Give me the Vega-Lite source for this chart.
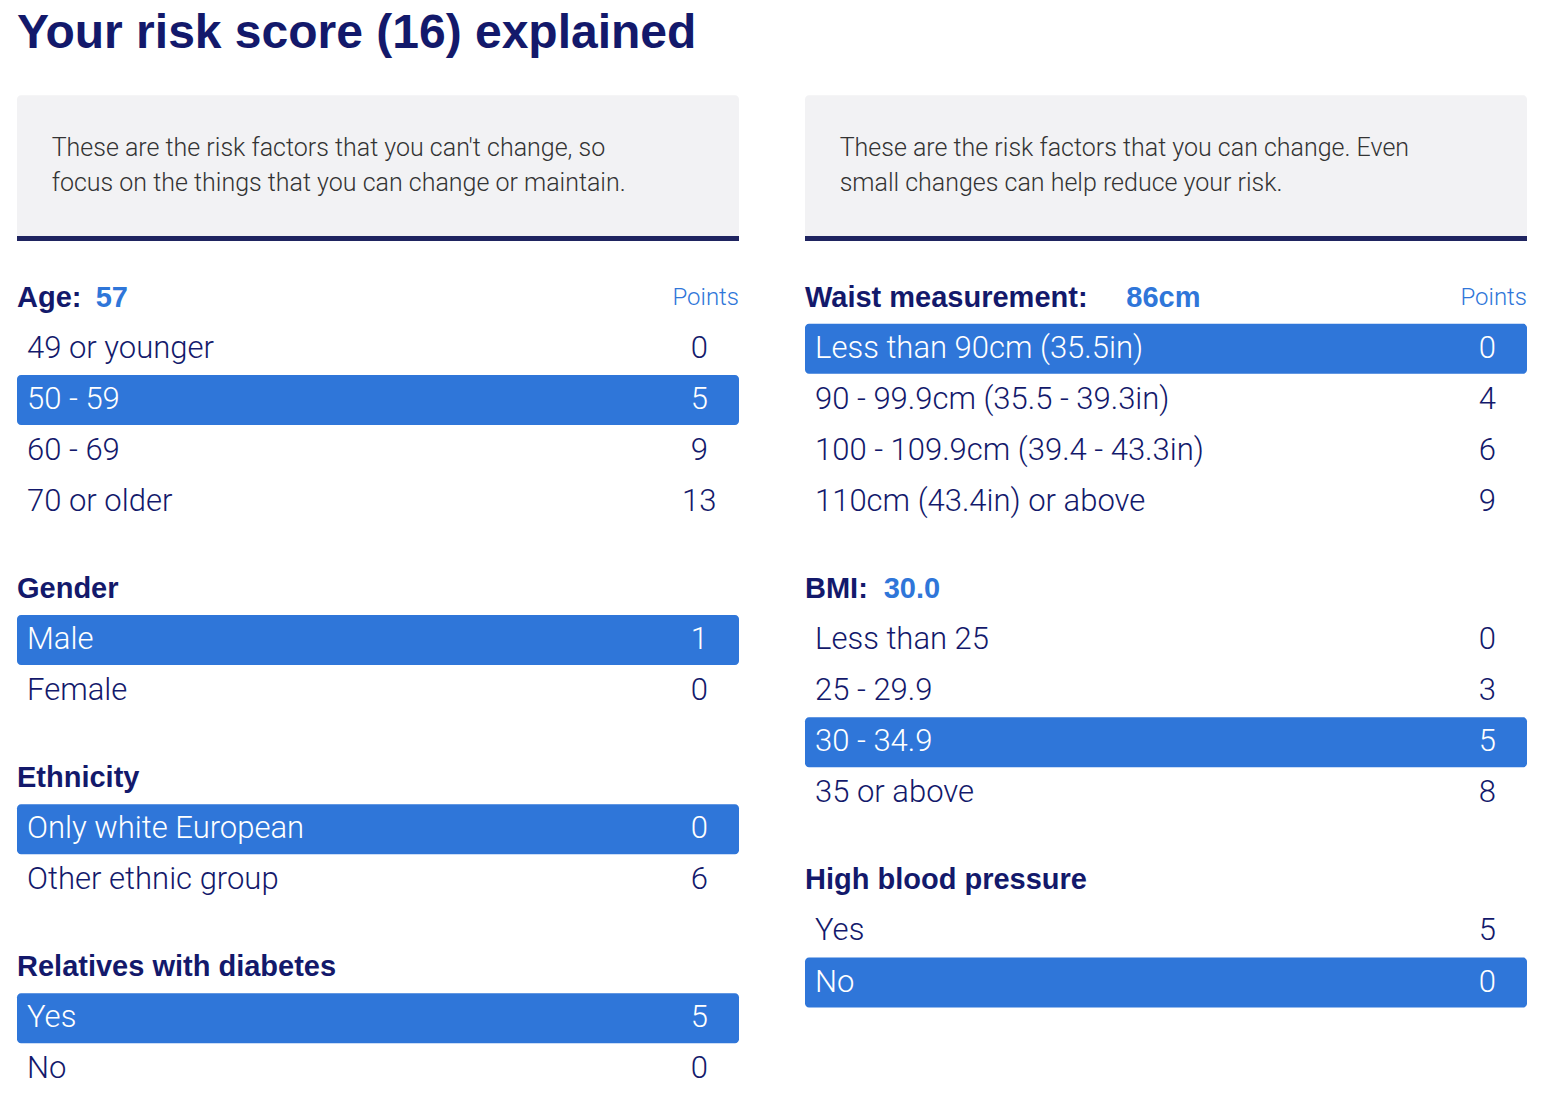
{
  "$schema": "https://vega.github.io/schema/vega-lite/v6.json",
  "padding": {"top": 10, "left": 14, "right": 0, "bottom": 0},
  "title": {"text": "Your risk score (16) explained", "anchor": "start", "font": "Liberation Sans", "fontSize": 48, "fontWeight": "bold", "color": "#13196b", "offset": 20, "frame": "group"},
  "data": {"values": [
    {"side": "A", "kind": "intro", "pos": -2.92, "label": "These are the risk factors that you can't change, so\nfocus on the things that you can change or maintain."},
    {"side": "A", "kind": "head", "pos": 0, "label": "Age:", "val": "57", "note": "Points"},
    {"side": "A", "kind": "opt", "pos": 1, "label": "49 or younger", "val": "0", "sel": false},
    {"side": "A", "kind": "opt", "pos": 2, "label": "50 - 59", "val": "5", "sel": true},
    {"side": "A", "kind": "opt", "pos": 3, "label": "60 - 69", "val": "9", "sel": false},
    {"side": "A", "kind": "opt", "pos": 4, "label": "70 or older", "val": "13", "sel": false},
    {"side": "A", "kind": "head", "pos": 5.7, "label": "Gender"},
    {"side": "A", "kind": "opt", "pos": 6.7, "label": "Male", "val": "1", "sel": true},
    {"side": "A", "kind": "opt", "pos": 7.7, "label": "Female", "val": "0", "sel": false},
    {"side": "A", "kind": "head", "pos": 9.4, "label": "Ethnicity"},
    {"side": "A", "kind": "opt", "pos": 10.4, "label": "Only white European", "val": "0", "sel": true},
    {"side": "A", "kind": "opt", "pos": 11.4, "label": "Other ethnic group", "val": "6", "sel": false},
    {"side": "A", "kind": "head", "pos": 13.1, "label": "Relatives with diabetes"},
    {"side": "A", "kind": "opt", "pos": 14.1, "label": "Yes", "val": "5", "sel": true},
    {"side": "A", "kind": "opt", "pos": 15.1, "label": "No", "val": "0", "sel": false},
    {"side": "B", "kind": "intro", "pos": -2.92, "label": "These are the risk factors that you can change. Even\nsmall changes can help reduce your risk."},
    {"side": "B", "kind": "head", "pos": 0, "label": "Waist measurement:", "val": "86cm", "note": "Points"},
    {"side": "B", "kind": "opt", "pos": 1, "label": "Less than 90cm (35.5in)", "val": "0", "sel": true},
    {"side": "B", "kind": "opt", "pos": 2, "label": "90 - 99.9cm (35.5 - 39.3in)", "val": "4", "sel": false},
    {"side": "B", "kind": "opt", "pos": 3, "label": "100 - 109.9cm (39.4 - 43.3in)", "val": "6", "sel": false},
    {"side": "B", "kind": "opt", "pos": 4, "label": "110cm (43.4in) or above", "val": "9", "sel": false},
    {"side": "B", "kind": "head", "pos": 5.7, "label": "BMI:", "val": "30.0"},
    {"side": "B", "kind": "opt", "pos": 6.7, "label": "Less than 25", "val": "0", "sel": false},
    {"side": "B", "kind": "opt", "pos": 7.7, "label": "25 - 29.9", "val": "3", "sel": false},
    {"side": "B", "kind": "opt", "pos": 8.7, "label": "30 - 34.9", "val": "5", "sel": true},
    {"side": "B", "kind": "opt", "pos": 9.7, "label": "35 or above", "val": "8", "sel": false},
    {"side": "B", "kind": "head", "pos": 11.4, "label": "High blood pressure"},
    {"side": "B", "kind": "opt", "pos": 12.4, "label": "Yes", "val": "5", "sel": false},
    {"side": "B", "kind": "opt", "pos": 13.4, "label": "No", "val": "0", "sel": true}
  ]},
  "facet": {"column": {"field": "side", "type": "nominal", "header": null}},
  "spacing": 60,
  "spec": {
    "width": 722,
    "height": 1022,
    "encoding": {
      "y": {"field": "pos", "type": "quantitative", "scale": {"domain": [-4.2, 15.6], "reverse": true, "nice": false, "zero": false}, "axis": null}
    },
    "layer": [
      {
        "transform": [{"filter": "datum.kind == 'intro'"}],
        "mark": {"type": "rect", "fill": "#f2f2f4", "cornerRadius": 4},
        "encoding": {
          "x": {"datum": 0, "type": "quantitative", "scale": {"domain": [0, 1], "nice": false}, "axis": null},
          "x2": {"datum": 1},
          "y": {"datum": -3.96, "type": "quantitative"},
          "y2": {"datum": -1.16}
        }
      },
      {
        "transform": [{"filter": "datum.kind == 'intro'"}],
        "mark": {"type": "rule", "stroke": "#1f2460", "strokeWidth": 5},
        "encoding": {
          "x": {"datum": 0, "type": "quantitative"},
          "x2": {"datum": 1},
          "y": {"datum": -1.16, "type": "quantitative"}
        }
      },
      {
        "transform": [{"filter": "datum.kind == 'intro'"}],
        "mark": {"type": "text", "align": "left", "baseline": "middle", "font": "Roboto", "fontWeight": 300, "fontSize": 25, "lineBreak": "\n", "lineHeight": 35, "color": "#333333"},
        "encoding": {
          "x": {"datum": 0.048, "type": "quantitative"},
          "text": {"field": "label"}
        }
      },
      {
        "transform": [{"filter": "datum.sel == true"}],
        "mark": {"type": "bar", "orient": "horizontal", "height": 50, "cornerRadius": 4, "color": "#2f76d9"},
        "encoding": {
          "x": {"datum": 0, "type": "quantitative"},
          "x2": {"datum": 1}
        }
      },
      {
        "transform": [{"filter": "datum.kind == 'opt'"}],
        "mark": {"type": "text", "align": "left", "baseline": "middle", "font": "Roboto", "fontWeight": 300, "fontSize": 31},
        "encoding": {
          "x": {"datum": 0.0139, "type": "quantitative"},
          "text": {"field": "label"},
          "color": {"condition": {"test": "datum.sel", "value": "#ffffff"}, "value": "#13196b"}
        }
      },
      {
        "transform": [{"filter": "datum.kind == 'opt'"}],
        "mark": {"type": "text", "align": "center", "baseline": "middle", "font": "Roboto", "fontWeight": 300, "fontSize": 31},
        "encoding": {
          "x": {"datum": 0.945, "type": "quantitative"},
          "text": {"field": "val"},
          "color": {"condition": {"test": "datum.sel", "value": "#ffffff"}, "value": "#13196b"}
        }
      },
      {
        "transform": [{"filter": "datum.kind == 'head'"}],
        "mark": {"type": "text", "align": "left", "baseline": "middle", "font": "Liberation Sans", "fontWeight": "bold", "fontSize": 29, "color": "#13196b"},
        "encoding": {
          "x": {"datum": 0, "type": "quantitative"},
          "text": {"field": "label"}
        }
      },
      {
        "transform": [{"filter": "datum.kind == 'head' && (datum.label == 'Age:' || datum.label == 'BMI:')"}],
        "mark": {"type": "text", "align": "left", "baseline": "middle", "font": "Liberation Sans", "fontWeight": "bold", "fontSize": 29, "color": "#2f76d9"},
        "encoding": {
          "x": {"datum": 0.109, "type": "quantitative"},
          "text": {"field": "val"}
        }
      },
      {
        "transform": [{"filter": "datum.kind == 'head' && datum.label == 'Waist measurement:'"}],
        "mark": {"type": "text", "align": "left", "baseline": "middle", "font": "Liberation Sans", "fontWeight": "bold", "fontSize": 29, "color": "#2f76d9"},
        "encoding": {
          "x": {"datum": 0.445, "type": "quantitative"},
          "text": {"field": "val"}
        }
      },
      {
        "transform": [{"filter": "datum.note == 'Points'"}],
        "mark": {"type": "text", "align": "right", "baseline": "middle", "font": "Roboto", "fontWeight": 300, "fontSize": 24, "color": "#2f76d9"},
        "encoding": {
          "x": {"datum": 1, "type": "quantitative"},
          "text": {"field": "note"}
        }
      }
    ]
  },
  "config": {"view": {"stroke": null}, "background": "#ffffff", "padding": 0}
}
